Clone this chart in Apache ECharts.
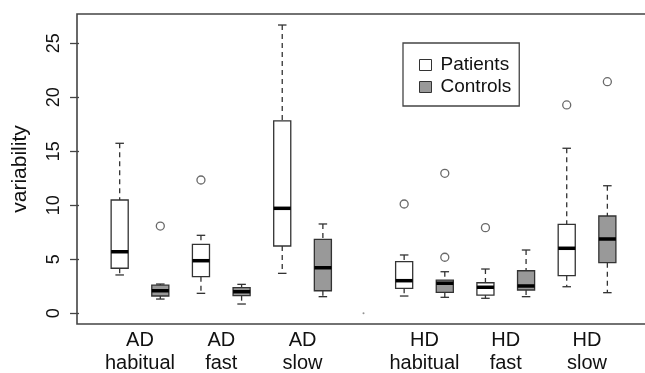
<!DOCTYPE html>
<html>
<head>
<meta charset="utf-8">
<title>variability boxplot</title>
<script src="https://cdn.jsdelivr.net/npm/echarts@6/dist/echarts.min.js"></script>
<style>
  html, body { margin: 0; padding: 0; background: #fff; }
  #chart { width: 645px; height: 373px; }
</style>
</head>
<body>
<div id="chart"></div>
<script>
// group labels under the x axis
const groupLabels = ['AD\nhabitual', 'AD\nfast', 'AD\nslow', 'HD\nhabitual', 'HD\nfast', 'HD\nslow'];
// slot of each label (between the two boxes of a group)
const labelSlots = [1.5, 3.5, 5.5, 8.5, 10.5, 12.5];
// slot of the patients / controls box in each group
const patientSlots = [1, 3, 5, 8, 10, 12];
const controlSlots = [2, 4, 6, 9, 11, 13];

// [lower whisker, Q1, median, Q3, upper whisker]
const patientStats = [
  [3.55, 4.17, 5.70, 10.49, 15.74],
  [1.85, 3.39, 4.87, 6.39, 7.22],
  [3.70, 6.23, 9.72, 17.81, 26.69],
  [1.60, 2.31, 3.02, 4.78, 5.40],
  [1.39, 1.69, 2.41, 2.83, 4.10],
  [2.46, 3.48, 6.02, 8.24, 15.28]
];
const controlStats = [
  [1.32, 1.60, 2.09, 2.60, 2.71],
  [0.86, 1.63, 2.00, 2.37, 2.68],
  [1.54, 2.09, 4.22, 6.85, 8.27],
  [1.48, 1.94, 2.78, 3.08, 3.85],
  [1.54, 2.16, 2.53, 3.94, 5.86],
  [1.91, 4.69, 6.88, 9.01, 11.81]
];

// outliers: [group index, value]
const patientOutliers = [[1, 12.34], [3, 10.12], [4, 7.93], [5, 19.29]];
const controlOutliers = [[0, 8.08], [3, 12.96], [3, 5.19], [5, 21.44]];

// the little stray dot in the empty slot
const strayPoints = [[7, 0]];

const yTicks = [0, 5, 10, 15, 20, 25];

const FONT = 'Liberation Sans, Arial, Helvetica, sans-serif';
const BOX_WIDTH = 0.42;

// build series data from the arrays
function boxData(slots, stats) {
  return stats.map((s, i) => [slots[i]].concat(s));
}
function outlierData(slots, list) {
  return list.map(o => [slots[o[0]], o[1]]);
}

// draw one R-style box: dashed whiskers, staples, box, thick median
function renderBox(params, api) {
  const x = api.value(0);
  const lo = api.coord([x, api.value(1)]);
  const q1 = api.coord([x, api.value(2)]);
  const med = api.coord([x, api.value(3)]);
  const q3 = api.coord([x, api.value(4)]);
  const hi = api.coord([x, api.value(5)]);
  const w = api.size([BOX_WIDTH, 0])[0];
  const cx = lo[0];
  const whisker = { stroke: '#333', lineWidth: 1.3, lineDash: [5, 4] };
  const staple = { stroke: '#333', lineWidth: 1.3 };
  return {
    type: 'group',
    children: [
      { type: 'line', shape: { x1: cx, y1: hi[1], x2: cx, y2: q3[1] }, style: whisker },
      { type: 'line', shape: { x1: cx, y1: q1[1], x2: cx, y2: lo[1] }, style: whisker },
      { type: 'line', shape: { x1: cx - w / 4, y1: hi[1], x2: cx + w / 4, y2: hi[1] }, style: staple },
      { type: 'line', shape: { x1: cx - w / 4, y1: lo[1], x2: cx + w / 4, y2: lo[1] }, style: staple },
      {
        type: 'rect',
        shape: { x: cx - w / 2, y: q3[1], width: w, height: q1[1] - q3[1] },
        style: { fill: api.visual('color'), stroke: '#333', lineWidth: 1.3 }
      },
      { type: 'line', shape: { x1: cx - w / 2, y1: med[1], x2: cx + w / 2, y2: med[1] }, style: { stroke: '#000', lineWidth: 3.5 } }
    ]
  };
}

const chart = echarts.init(document.getElementById('chart'));

const outlierStyle = {
  type: 'scatter',
  symbol: 'circle',
  symbolSize: 8,
  itemStyle: { color: '#fff', borderColor: '#444', borderWidth: 1.3 },
  z: 5
};

const option = {
  animation: false,
  textStyle: { fontFamily: FONT },
  grid: {
    left: 77, top: 14, right: -3, bottom: 49,
    outerBoundsMode: 'none',
    containLabel: false,
    show: true, borderColor: '#444', borderWidth: 1.6
  },
  legend: {
    data: ['Patients', 'Controls'],
    orient: 'vertical',
    left: 403, top: 43,
    padding: [12, 8, 9, 16],
    icon: 'rect',
    itemWidth: 12, itemHeight: 11, itemGap: 2,
    borderColor: '#444', borderWidth: 1.3,
    selectedMode: false,
    itemStyle: { borderColor: '#333', borderWidth: 1 },
    textStyle: { fontFamily: FONT, fontSize: 19, lineHeight: 20, color: '#111', padding: [0, 0, 0, 4] }
  },
  xAxis: {
    type: 'value',
    min: -0.05, max: 14.0,
    splitLine: { show: false },
    axisLine: { show: false },
    axisTick: { show: false },
    axisLabel: {
      customValues: labelSlots,
      formatter: function (v) {
        const i = labelSlots.findIndex(s => Math.abs(s - v) < 1e-6);
        return i >= 0 ? groupLabels[i] : '';
      },
      margin: 5,
      fontFamily: FONT, fontSize: 20, lineHeight: 23, color: '#111'
    }
  },
  yAxis: {
    type: 'value',
    min: -0.99, max: 27.71,
    splitLine: { show: false },
    axisLine: { show: false },
    axisTick: { show: true, length: 9, customValues: yTicks, lineStyle: { color: '#444', width: 1.3 } },
    axisLabel: {
      customValues: yTicks,
      rotate: 90,
      margin: 14,
      fontFamily: FONT, fontSize: 18, color: '#111'
    },
    name: 'variability',
    nameLocation: 'middle',
    nameGap: 46,
    nameRotate: 90,
    nameTextStyle: { fontFamily: FONT, fontSize: 21, color: '#111' }
  },
  series: [
    {
      name: 'Patients',
      type: 'custom',
      renderItem: renderBox,
      itemStyle: { color: '#fff' },
      encode: { x: 0, y: [1, 2, 3, 4, 5] },
      data: boxData(patientSlots, patientStats)
    },
    {
      name: 'Controls',
      type: 'custom',
      renderItem: renderBox,
      itemStyle: { color: '#999' },
      encode: { x: 0, y: [1, 2, 3, 4, 5] },
      data: boxData(controlSlots, controlStats)
    },
    Object.assign({ name: 'Patients outliers', data: outlierData(patientSlots, patientOutliers) }, outlierStyle),
    Object.assign({ name: 'Controls outliers', data: outlierData(controlSlots, controlOutliers) }, outlierStyle),
    {
      name: 'stray',
      type: 'scatter',
      symbolSize: 2,
      itemStyle: { color: '#777' },
      data: strayPoints
    }
  ]
};

chart.setOption(option);
</script>
</body>
</html>
